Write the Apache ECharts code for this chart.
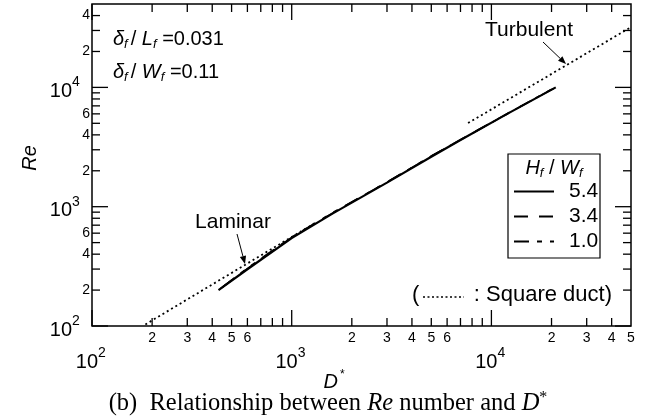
<!DOCTYPE html>
<html><head><meta charset="utf-8">
<script src="https://cdn.jsdelivr.net/npm/echarts@6/dist/echarts.min.js"></script>
<style>html,body{margin:0;padding:0;background:#fff}#c{width:654px;height:418px}</style>
</head><body><div id="c"></div>
<script>
// ---- axis ranges and ticks ----
const xMin = 100, xMax = 50000, yMin = 100, yMax = 50000;
const xMajorTicks = [100, 1000, 10000];
const xMinorTicks = [200,300,400,500,600,700,800,900,2000,3000,4000,5000,6000,7000,8000,9000,20000,30000,40000];
const xMinorLabels = [200,300,400,500,600,2000,3000,4000,5000,6000,20000,30000,40000,50000];
const xMajorLabels = [100,1000,10000];
const yMajorTicks = [100, 1000, 10000];
const yMinorTicks = [200,300,400,500,600,700,800,900,2000,3000,4000,5000,6000,7000,8000,9000,20000,30000,40000];
const yMinorLabels = [200,400,600,2000,4000,6000,20000,40000];
const yMajorLabels = [100,1000,10000];

// ---- series data [D*, Re] ----
const hw54 = [[430,200],[600,299],[1000,546],[1600,875],[3000,1590],[5000,2620],[7000,3620],[12000,6000],[21000,10000]];
const hw34 = [[440,206],[600,303],[1000,553],[1600,884],[3000,1606],[5000,2650],[7000,3640],[12000,6030],[20500,9800]];
const hw10 = [[450,212],[600,306],[1000,556],[1600,890],[3000,1604],[5000,2660],[7000,3630],[12000,5990],[20000,9650]];
const ductLaminar = [[185,103],[1300,725]];
const ductTurbulent = [[7640,5020],[50000,32000]];
const legendNames = ['5.4','3.4','1.0'];

const FONT = 'Liberation Sans, Arial, sans-serif';

function lead(v){ return String(Math.round(v / Math.pow(10, Math.floor(Math.log10(v)+1e-9)))); }
function expo(v){ return String(Math.round(Math.log10(v))); }

function txt(x, y, text, size, align, valign, extra){
  return Object.assign({type:'text', x:x, y:y, silent:true,
    style:{text:text, font: size+'px '+FONT, fill:'#000', align:align, verticalAlign:valign,
           textAlign:align, textVerticalAlign:valign}}, extra||{});
}

function tickSeries(values, axis, len){
  return {
    type:'custom', coordinateSystem:'cartesian2d', clip:false, silent:true, z:5,
    data: values.map(v => axis==='x' ? [v, yMin] : [xMin, v]),
    encode:{x:0, y:1},
    renderItem(params, api){
      const st = {stroke:'#000', lineWidth:1.3};
      if (axis==='x'){
        const v = api.value(0);
        const b = api.coord([v, yMin]), t = api.coord([v, yMax]);
        return {type:'group', children:[
          {type:'line', shape:{x1:b[0],y1:b[1],x2:b[0],y2:b[1]-len}, style:st},
          {type:'line', shape:{x1:t[0],y1:t[1],x2:t[0],y2:t[1]+len}, style:st}
        ]};
      } else {
        const v = api.value(1);
        const l = api.coord([xMin, v]), r = api.coord([xMax, v]);
        return {type:'group', children:[
          {type:'line', shape:{x1:l[0],y1:l[1],x2:l[0]+len,y2:l[1]}, style:st},
          {type:'line', shape:{x1:r[0],y1:r[1],x2:r[0]-len,y2:r[1]}, style:st}
        ]};
      }
    }
  };
}

function labelSeries(values, axis, major){
  return {
    type:'custom', coordinateSystem:'cartesian2d', clip:false, silent:true, z:5,
    data: values.map(v => axis==='x' ? [v, yMin] : [xMin, v]),
    encode:{x:0, y:1},
    renderItem(params, api){
      if (axis==='x'){
        const v = api.value(0);
        const p = api.coord([v, yMin]);
        if (!major) return txt(p[0], p[1]+12, lead(v), 14, 'center', 'middle');
        return {type:'group', children:[
          txt(p[0]+6, p[1]+36, '10', 20, 'right', 'middle'),
          txt(p[0]+6, p[1]+27, expo(v), 14, 'left', 'middle')
        ]};
      } else {
        const v = api.value(1);
        const p = api.coord([xMin, v]);
        if (!major) return txt(p[0]-2, p[1], lead(v), 14, 'right', 'middle');
        return {type:'group', children:[
          txt(p[0]-20, p[1]+4, '10', 20, 'right', 'middle'),
          txt(p[0]-20, p[1]-5, expo(v), 14, 'left', 'middle')
        ]};
      }
    }
  };
}

function lineSeries(name, data, width, dash){
  return {name:name, type:'line', data:data, symbol:'none', showSymbol:false, silent:true,
    lineStyle:{color:'#000', width:width, type:dash}, itemStyle:{color:'#000', opacity:0}, z:3, animation:false};
}

function arrow(x1,y1,x2,y2){
  const a = Math.atan2(y2-y1, x2-x1), L = 8, W = 3.2;
  const bx = x2 - L*Math.cos(a), by = y2 - L*Math.sin(a);
  const px = -Math.sin(a)*W, py = Math.cos(a)*W;
  return [
    {type:'line', silent:true, shape:{x1:x1,y1:y1,x2:bx,y2:by}, style:{stroke:'#000', lineWidth:1}},
    {type:'polygon', silent:true, shape:{points:[[x2,y2],[bx+px,by+py],[bx-px,by-py]]}, style:{fill:'#000'}}
  ];
}

const richDelta = {
  i:{fontFamily:FONT, fontStyle:'italic', fontSize:20, fill:'#000'},
  s:{fontFamily:FONT, fontStyle:'italic', fontSize:13, fill:'#000', padding:[10,0,0,0]},
  t:{fontFamily:FONT, fontStyle:'italic', fontSize:13, fill:'#000', padding:[10,3,0,0]},
  n:{fontFamily:FONT, fontSize:20, fill:'#000'}
};

const chart = echarts.init(document.getElementById('c'), null, {renderer:'canvas'});
chart.setOption({
  animation:false,
  backgroundColor:'#fff',
  grid:{left:92, right:23, top:4, bottom:92, show:true, borderColor:'#000', borderWidth:1.5, backgroundColor:'transparent'},
  xAxis:{type:'log', logBase:10, min:xMin, max:xMax,
    axisLine:{show:false}, axisTick:{show:false}, axisLabel:{show:false}, splitLine:{show:false}, minorTick:{show:false}},
  yAxis:{type:'log', logBase:10, min:yMin, max:yMax,
    axisLine:{show:false}, axisTick:{show:false}, axisLabel:{show:false}, splitLine:{show:false}, minorTick:{show:false}},
  legend:{
    data:legendNames, orient:'vertical', left:513, top:181, padding:0, itemWidth:40, itemHeight:12, itemGap:4,
    selectedMode:false, itemStyle:{opacity:0},
    textStyle:{fontFamily:FONT, fontSize:21, color:'#000', padding:[0,0,0,10]}
  },
  series:[
    lineSeries(legendNames[0], hw54, 2.2, 'solid'),
    lineSeries(legendNames[1], hw34, 1.6, [14,11]),
    lineSeries(legendNames[2], hw10, 1.6, [15,8,5,8,5,8]),
    lineSeries('Square duct laminar', ductLaminar, 1.8, [2,3]),
    lineSeries('Square duct turbulent', ductTurbulent, 1.8, [2,3]),
    tickSeries(xMajorTicks, 'x', 16),
    tickSeries(xMinorTicks, 'x', 8),
    tickSeries(yMajorTicks, 'y', 16),
    tickSeries(yMinorTicks, 'y', 8),
    labelSeries(xMinorLabels, 'x', false),
    labelSeries(xMajorLabels, 'x', true),
    labelSeries(yMinorLabels, 'y', false),
    labelSeries(yMajorLabels, 'y', true)
  ],
  graphic:[
    // axis titles
    {type:'text', x:30, y:158, rotation:Math.PI/2, silent:true,
      style:{text:'Re', font:'italic 20px '+FONT, fill:'#000', align:'center', verticalAlign:'middle', textAlign:'center', textVerticalAlign:'middle'}},
    {type:'text', x:334, y:382, silent:true,
      style:{text:'D{s|*}', font:'italic 20px '+FONT, fill:'#000', align:'center', verticalAlign:'middle', textAlign:'center', textVerticalAlign:'middle',
        rich:{s:{fontFamily:FONT, fontSize:12, fill:'#000', padding:[0,0,14,2]}}}},
    // caption
    {type:'text', x:328, y:404, silent:true,
      style:{text:'(b)  Relationship between {i|Re} number and {i|D}{s|*}', font:'24.5px Liberation Serif, Times New Roman, serif', fill:'#000',
        align:'center', verticalAlign:'middle', textAlign:'center', textVerticalAlign:'middle',
        rich:{i:{fontFamily:'Liberation Serif', fontStyle:'italic', fontSize:24.5, fill:'#000'},
              s:{fontFamily:'Liberation Serif', fontSize:16, fill:'#000', padding:[0,0,12,0]}}}},
    // parameter text
    {type:'text', x:113, y:39, silent:true,
      style:{text:'{i|δ}{t|f}{n|/ }{i|L}{s|f}{n| =0.031}', align:'left', verticalAlign:'middle', textAlign:'left', textVerticalAlign:'middle', rich:richDelta}},
    {type:'text', x:113, y:72, silent:true,
      style:{text:'{i|δ}{t|f}{n|/ }{i|W}{s|f}{n| =0.11}', align:'left', verticalAlign:'middle', textAlign:'left', textVerticalAlign:'middle', rich:richDelta}},
    // annotations
    txt(529, 30, 'Turbulent', 21, 'center', 'middle'),
    ...arrow(543, 42, 566, 64),
    txt(233, 222, 'Laminar', 21, 'center', 'middle'),
    ...arrow(237, 234, 245, 264),
    // square duct note
    txt(412, 295, '(', 22, 'left', 'middle'),
    {type:'line', silent:true, shape:{x1:423,y1:297,x2:464,y2:297}, style:{stroke:'#000', lineWidth:1.3, lineDash:[2,2.5]}},
    txt(612, 295, ': Square duct)', 22, 'right', 'middle'),
    // legend box + title
    {type:'rect', silent:true, shape:{x:508, y:154, width:92, height:104}, style:{fill:'none', stroke:'#000', lineWidth:1.2}},
    {type:'text', x:554, y:168, silent:true,
      style:{text:'{i|H}{s|f}{n| / }{i|W}{s|f}', align:'center', verticalAlign:'middle', textAlign:'center', textVerticalAlign:'middle', rich:richDelta}}
  ]
});
</script></body></html>
